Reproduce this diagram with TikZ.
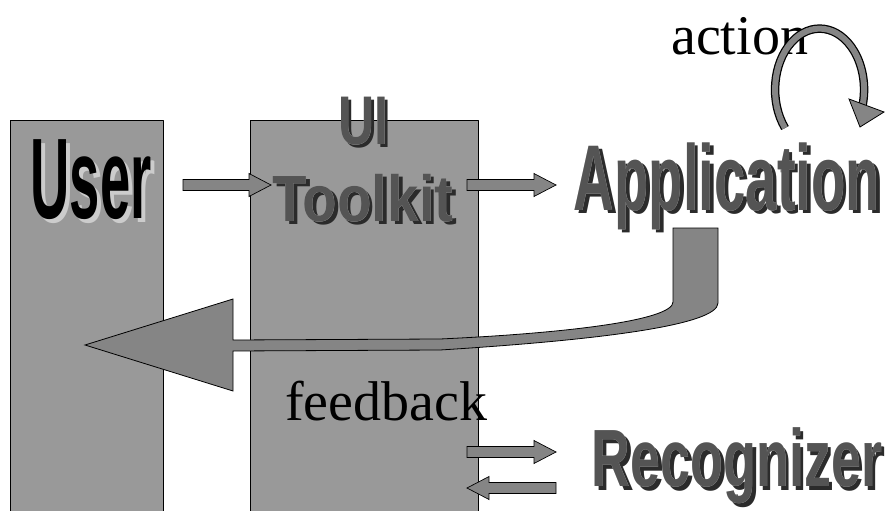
\documentclass[tikz,border=0pt]{standalone}
\usepackage{fontspec}
\usepackage{graphicx}
\usepackage{pdfrender}
\setmainfont{Liberation Serif}
\newfontfamily\blockfont{Liberation Sans}
\usetikzlibrary{calc}
\definecolor{panelgray}{gray}{0.6}
\definecolor{arrowgray}{gray}{0.52}
\definecolor{facegray}{gray}{0.33}
\definecolor{rimgray}{gray}{0.8}
\definecolor{shadegray}{gray}{0.17}
% raised block lettering: dark shadow, light rim, dark face
\newcommand{\embossed}[5]{%
  \node[shadetext] (#1-s) at ($(#2)+(3.5,3.5)$) {\resizebox*{#3}{#4}{\textpdfrender{TextRenderingMode=FillStroke,LineWidth=3.2}{#5}}};
  \node[rimtext] (#1-r) at (#2) {\resizebox*{#3}{#4}{\textpdfrender{TextRenderingMode=FillStroke,LineWidth=3.2}{#5}}};
  \node[facetext] (#1) at (#2) {\resizebox*{#3}{#4}{#5}};
}
% flat block arrow between two points
\newcommand{\blockarrow}[2]{%
  \filldraw[blockarr] ($(#1)+(0,-5.5)$) -- ($(#2)!22pt!(#1)+(0,-5.5)$) -- ($(#2)!22pt!(#1)+(0,-11.5)$)
    -- (#2) -- ($(#2)!22pt!(#1)+(0,11.5)$) -- ($(#2)!22pt!(#1)+(0,5.5)$) -- ($(#1)+(0,5.5)$) -- cycle;
}
\begin{document}
\begin{tikzpicture}[x=1pt, y=-1pt, line join=round,
  panel/.style={draw, fill=panelgray, line width=0.8pt, inner sep=0pt, anchor=north west},
  blockarr/.style={fill=arrowgray, draw=black, line width=0.7pt, line join=miter},
  shadetext/.style={inner sep=0pt, text=shadegray, font=\blockfont\bfseries},
  rimtext/.style={inner sep=0pt, text=rimgray, font=\blockfont\bfseries},
  facetext/.style={inner sep=0pt, text=facegray, font=\blockfont\bfseries},
  label/.style={inner sep=0pt, anchor=base west, font=\fontsize{56}{60}\selectfont}]
\useasboundingbox (0,0) rectangle (887,511);
\clip (0,0) rectangle (887,511);
% the two columns
\node[panel, minimum width=153, minimum height=420] (userbox) at (10,120) {};
\node[panel, minimum width=228, minimum height=420] (toolbox) at (250,120) {};
% arrow ends
\coordinate (user-out) at (183,185);
\coordinate (tk-in) at (271,185);
\coordinate (tk-out) at (467,185);
\coordinate (app-in) at (556,185);
\coordinate (tk-rec) at (467,452);
\coordinate (rec-in) at (556,452);
\coordinate (rec-out) at (556,488);
\coordinate (tk-ret) at (467,488);
% User
\node[inner sep=0pt, text=rimgray, font=\blockfont\bfseries] (user-s) at (95,184) {\resizebox*{121pt}{80pt}{User}};
\node[inner sep=0pt, text=black, font=\blockfont\bfseries] (user) at (91,180) {\resizebox*{121pt}{80pt}{User}};
\embossed{ui}{363,121}{50pt}{48pt}{UI}
\embossed{toolkit}{363,198}{181pt}{48pt}{Toolkit}
\embossed{app}{727,186}{306pt}{87pt}{Application}
\embossed{rec}{737,466}{290pt}{76pt}{Recognizer}
\blockarrow{user-out}{tk-in}
\blockarrow{tk-out}{app-in}
\blockarrow{tk-rec}{rec-in}
\blockarrow{rec-out}{tk-ret}
% feedback arrow
\filldraw[fill=arrowgray, line width=0.8pt, line join=miter] (85,345) -- (233,299) -- (233,340) -- (440,339)
  .. controls (570,333) and (673,320) .. (673,302) -- (673,228) -- (718,228) -- (718,303)
  .. controls (718,325) and (600,340) .. (440,350) -- (233,351) -- (233,391) -- cycle;
% action loop
\node[label] (action) at (671,55) {action};
\draw[line width=8.5pt] (785,128) arc[start angle=141, end angle=375, x radius=44.5, y radius=61];
\draw[arrowgray, line width=6pt] (785,128) arc[start angle=141, end angle=376, x radius=44.5, y radius=61];
\filldraw[fill=arrowgray, line width=0.8pt, line join=miter] (849,99) -- (884,112) -- (860,127) -- cycle;
\node[label] (feedback) at (285,420) {feedback};
\end{tikzpicture}
\end{document}
